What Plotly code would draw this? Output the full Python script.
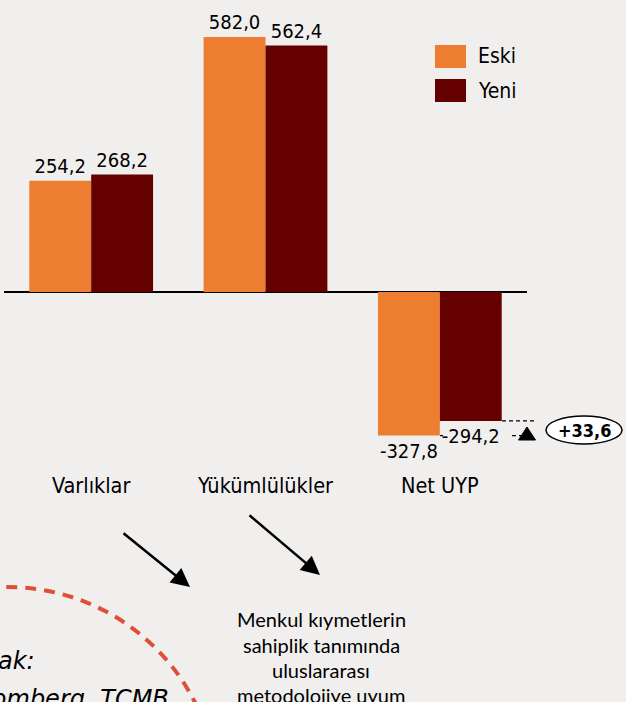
import plotly.graph_objects as go

# ---- data ----
categories = ["Varlıklar", "Yükümlülükler", "Net UYP"]
eski = [254.2, 582.0, -327.8]
yeni = [268.2, 562.4, -294.2]
series_names = ["Eski", "Yeni"]
note_lines = ["Menkul kıymetlerin", "sahiplik tanımında", "uluslararası", "metodolojiye uyum"]
source_lines = ["Kaynak:", "Bloomberg, TCMB"]

# ---- styling ----
colors = ["#ED7D31", "#640000"]
W, H = 626, 702
BG = "#F1EFEE"
FONT = "DejaVu Sans Condensed, DejaVu Sans, sans-serif"


def px(x):
    return x / W


def py(y):
    return 1 - y / H


fig = go.Figure()
for name, vals, col in zip(series_names, [eski, yeni], colors):
    fig.add_trace(go.Bar(
        x=categories, y=vals, name=name,
        marker=dict(color=col, line=dict(width=0)),
        texttemplate="%{y:.1f}", textposition="outside", cliponaxis=False,
        constraintext="none",
        textfont=dict(family=FONT, size=20, color="black"),
        showlegend=False,
    ))

fig.update_layout(
    width=W, height=H,
    margin=dict(l=0, r=0, t=0, b=0),
    paper_bgcolor=BG, plot_bgcolor=BG,
    barmode="group", bargap=0.29, bargroupgap=0,
    separators=",.",
    showlegend=False,
    xaxis=dict(domain=[px(4), px(527)], showgrid=False, showline=False, ticks="",
               tickfont=dict(family=FONT, size=21.5, color="black"), automargin=False),
    yaxis=dict(domain=[py(470), py(0)], range=[-406.3, 666.5], showgrid=False,
               showticklabels=False, zeroline=True, zerolinecolor="black",
               zerolinewidth=1.5, automargin=False),
)

shapes = []
annots = []

# legend (custom, large swatches)
for i, (name, col) in enumerate(zip(series_names, colors)):
    top = 45 + i * 34
    shapes.append(dict(type="rect", xref="paper", yref="paper",
                       x0=px(435), x1=px(466), y0=py(top + 23), y1=py(top),
                       fillcolor=col, line=dict(width=0)))
    annots.append(dict(text=name, xref="paper", yref="paper", x=px(476), y=py(top + 11.5),
                       xanchor="left", yanchor="middle", showarrow=False,
                       font=dict(family=FONT, size=21, color="black")))

# difference marker for Net UYP
diff = yeni[2] - eski[2]
dash_line = dict(color="black", width=1.2, dash="4px,3px")
shapes.append(dict(type="line", xref="paper", yref="y", x0=px(502), x1=px(535),
                   y0=yeni[2], y1=yeni[2], line=dash_line))
shapes.append(dict(type="line", xref="paper", yref="y", x0=px(440), x1=px(443),
                   y0=eski[2], y1=eski[2], line=dash_line))
shapes.append(dict(type="line", xref="paper", yref="y", x0=px(512), x1=px(521),
                   y0=eski[2], y1=eski[2], line=dash_line))
shapes.append(dict(type="path", xref="paper", yref="paper",
                   path=f"M {px(518.5)},{py(440)} L {px(535.5)},{py(440)} L {px(527)},{py(427)} Z",
                   fillcolor="black", line=dict(color="black", width=1)))
shapes.append(dict(type="circle", xref="paper", yref="paper",
                   x0=px(546), x1=px(622), y0=py(444), y1=py(416),
                   fillcolor="white", line=dict(color="black", width=1.5)))
annots.append(dict(text=f"<b>+{diff:.1f}</b>".replace(".", ","), xref="paper", yref="paper",
                   x=px(585), y=py(430), xanchor="center", yanchor="middle", showarrow=False,
                   font=dict(family=FONT, size=18, color="black")))

# dashed red arc
shapes.append(dict(type="circle", xref="paper", yref="paper",
                   x0=px(7.5 - 210), x1=px(7.5 + 210), y0=py(797 + 210), y1=py(797 - 210),
                   line=dict(color="#DF4E36", width=4, dash="11px,8px"), fillcolor="rgba(0,0,0,0)"))

# arrows
for (tx, ty), (hx, hy) in [((122, 532), (190, 587)), ((248, 514), (320, 575))]:
    annots.append(dict(text="", xref="paper", yref="paper", x=px(hx), y=py(hy),
                       ax=tx - hx, ay=ty - hy, axref="pixel", ayref="pixel",
                       showarrow=True, arrowhead=2, arrowsize=1.5, arrowwidth=2.5,
                       arrowcolor="black"))

# note text
for line, yc in zip(note_lines, [619, 645, 670, 695]):
    annots.append(dict(text=line, xref="paper", yref="paper", x=px(321), y=py(yc),
                       xanchor="center", yanchor="middle", showarrow=False,
                       font=dict(family="Lato, sans-serif", size=20, color="black")))

# source text (cut at left edge)
for line, (xr, yc) in zip(source_lines, [(37, 661), (171, 699)]):
    annots.append(dict(text=f"<i>{line}</i>", xref="paper", yref="paper", x=px(xr), y=py(yc),
                       xanchor="right", yanchor="middle", showarrow=False,
                       font=dict(family="DejaVu Sans, sans-serif", size=24, color="black")))

fig.update_layout(shapes=shapes, annotations=annots)
fig.write_html(
    "out.html",
    config={"displayModeBar": False},
    post_script="document.body.style.margin='0';document.body.style.overflow='hidden';",
)
